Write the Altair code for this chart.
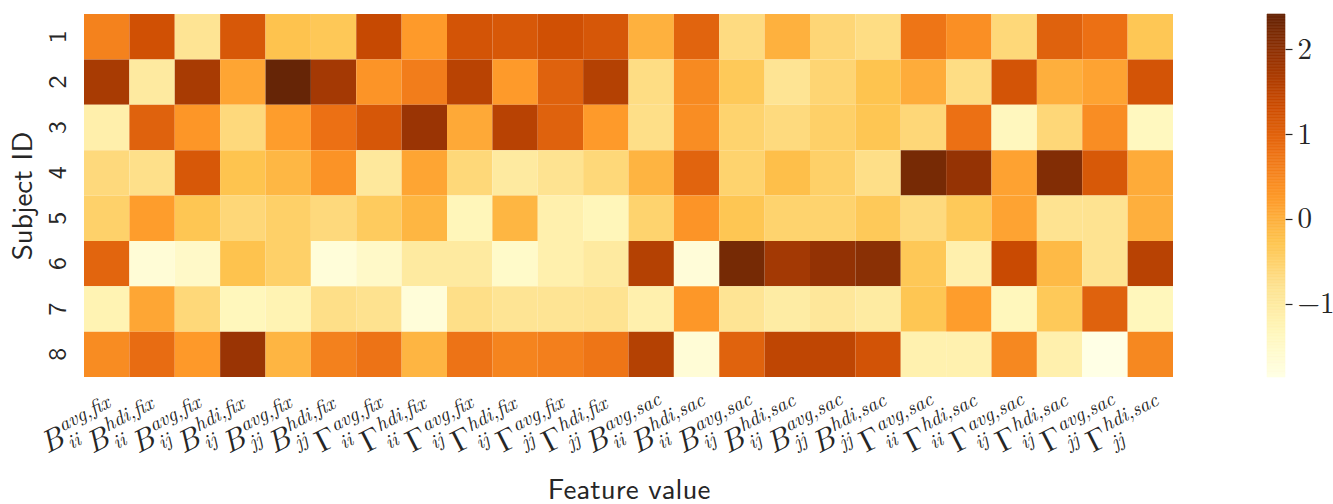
import altair as alt
import numpy as np
import pandas as pd

# Feature names: base symbol, subscript and superscript of each column
letters = ["B"] * 6 + ["Γ"] * 6 + ["B"] * 6 + ["Γ"] * 6
subs = ["ii", "ii", "ij", "ij", "jj", "jj"] * 4
sups = (["avg,fix", "hdi,fix"] * 6) + (["avg,sac", "hdi,sac"] * 6)
features = [f"{l}_{s}^{p}" for l, s, p in zip(letters, subs, sups)]

subjects = [1, 2, 3, 4, 5, 6, 7, 8]

# Standardised feature values, one list per subject (24 features each)
subject_1 = [0.58, 1.28, -0.83, 1.17, -0.25, -0.32, 1.41, 0.26, 1.23, 1.17, 1.28, 1.18,
             -0.02, 0.99, -0.66, -0.02, -0.57, -0.69, 0.75, 0.41, -0.60, 1.02, 0.81, -0.31]
subject_2 = [1.72, -0.98, 1.72, 0.13, 2.415, 1.76, 0.34, 0.64, 1.55, 0.26, 1.02, 1.60,
             -0.69, 0.47, -0.34, -0.83, -0.55, -0.26, 0.04, -0.69, 1.23, 0.00, 0.15, 1.23]
subject_3 = [-1.11, 1.02, 0.32, -0.62, 0.23, 0.81, 1.18, 1.87, 0.08, 1.56, 1.02, 0.26,
             -0.72, 0.43, -0.51, -0.64, -0.46, -0.29, -0.59, 0.81, -1.35, -0.59, 0.43, -1.37]
subject_4 = [-0.62, -0.74, 1.17, -0.26, -0.10, 0.36, -0.93, 0.13, -0.60, -0.98, -0.79, -0.60,
             -0.06, 0.99, -0.51, -0.19, -0.46, -0.72, 2.24, 1.92, 0.16, 2.12, 1.16, 0.05]
subject_5 = [-0.48, 0.23, -0.29, -0.59, -0.46, -0.62, -0.38, -0.08, -1.30, -0.08, -1.14, -1.30,
             -0.51, 0.34, -0.29, -0.51, -0.51, -0.34, -0.64, -0.34, 0.15, -0.79, -0.79, 0.00]
subject_6 = [0.98, -1.67, -1.48, -0.25, -0.46, -1.71, -1.48, -0.98, -0.98, -1.50, -1.14, -0.98,
             1.60, -1.69, 2.25, 1.78, 1.94, 2.04, -0.32, -1.14, 1.38, -0.13, -0.79, 1.56]
subject_7 = [-1.22, 0.12, -0.60, -1.33, -1.22, -0.72, -0.78, -1.70, -0.72, -0.83, -0.83, -0.79,
             -1.14, 0.30, -0.83, -1.03, -0.90, -1.00, -0.29, 0.23, -1.33, -0.34, 1.02, -1.33]
subject_8 = [0.45, 0.87, 0.28, 1.87, -0.07, 0.59, 0.77, -0.07, 0.77, 0.55, 0.61, 0.75,
             1.60, -1.67, 1.01, 1.48, 1.48, 1.24, -1.16, -1.16, 0.50, -1.14, -1.862, 0.50]

rows = [subject_1, subject_2, subject_3, subject_4,
        subject_5, subject_6, subject_7, subject_8]

colorbar_ticks = [-1, 0, 1, 2]

# YlOrBr ramp (matplotlib's nine anchor colours, linear in between)
ylorbr = ["#ffffe5", "#fff7bc", "#fee391", "#fec44f", "#fe9929",
          "#ec7014", "#cc4c02", "#993404", "#662506"]

# ---------------------------------------------------------------------------
cells = pd.DataFrame(
    [{"subject": s, "feature": f, "value": v}
     for s, row in zip(subjects, rows) for f, v in zip(features, row)]
)
labels = pd.DataFrame({"feature": features, "letter": letters, "sub": subs, "sup": sups})

vmin = float(cells["value"].min())
vmax = float(cells["value"].max())
stops = list(np.linspace(vmin, vmax, len(ylorbr)))
color_scale = alt.Scale(domain=stops, range=ylorbr, interpolate="rgb")

# colour bar sampled along the value range
edges = np.linspace(vmin, vmax, 241)
bar = pd.DataFrame({"lo": edges[:-1], "hi": edges[1:], "value": (edges[:-1] + edges[1:]) / 2})

W, H = 1089, 363
INK = "#262626"
SANS = "Latin Modern Sans"
SERIF = "Latin Modern Roman"

x_enc = alt.X(
    "feature:N", sort=features,
    scale=alt.Scale(paddingInner=0, paddingOuter=0),
    axis=alt.Axis(labels=False, ticks=False, domain=False, title="Feature value",
                  titleFont=SANS, titleFontSize=29, titleFontWeight="normal",
                  titleColor=INK, titleY=121, titleBaseline="alphabetic"),
)

heat = alt.Chart(cells).mark_rect().encode(
    x=x_enc,
    y=alt.Y("subject:O", sort=subjects,
            scale=alt.Scale(paddingInner=0, paddingOuter=0),
            axis=alt.Axis(title="Subject ID", labelAngle=270, labelFont=SANS,
                          labelFontSize=26, labelColor=INK, labelPadding=14,
                          ticks=False, domain=False,
                          titleFont=SANS, titleFontSize=29, titleFontWeight="normal",
                          titleColor=INK, titleAngle=270, titleX=-53,
                          titleBaseline="alphabetic")),
    color=alt.Color("value:Q", scale=color_scale, legend=None),
)

# tick labels: base symbol with stacked sub/superscript, rotated
ANGLE = 333
Y_LABEL = H + 23
lab = alt.Chart(labels)
x_lab = alt.X("feature:N", sort=features)
y_lab = alt.value(Y_LABEL)
main_b = lab.transform_filter(alt.datum.letter == "B").mark_text(
    align="right", baseline="alphabetic", dx=-56, dy=21,
    font=SERIF, fontSize=31, fontStyle="italic", color=INK,
).encode(x=x_lab, y=y_lab, text="letter:N", angle=alt.value(ANGLE))
main_g = lab.transform_filter(alt.datum.letter == "Γ").mark_text(
    align="right", baseline="alphabetic", dx=-56, dy=21,
    font=SERIF, fontSize=31, color=INK,
).encode(x=x_lab, y=y_lab, text="letter:N", angle=alt.value(ANGLE))
sup = lab.mark_text(
    align="left", baseline="alphabetic", dx=-54, dy=8,
    font=SERIF, fontSize=20, fontStyle="italic", color=INK,
).encode(x=x_lab, y=y_lab, text="sup:N", angle=alt.value(ANGLE))
sub = lab.mark_text(
    align="left", baseline="alphabetic", dx=-54, dy=28,
    font=SERIF, fontSize=20, fontStyle="italic", color=INK,
).encode(x=x_lab, y=y_lab, text="sub:N", angle=alt.value(ANGLE))

# colour bar to the right of the heatmap, with its own value axis
cbar = alt.Chart(bar).mark_rect(strokeWidth=0.6).encode(
    x=alt.value(W + 94),
    x2=alt.value(W + 112),
    y=alt.Y("lo:Q", scale=alt.Scale(domain=[vmin, vmax], nice=False, zero=False),
            axis=alt.Axis(orient="right", offset=112, values=colorbar_ticks,
                          domain=False, grid=False, tickSize=7, tickWidth=1.2,
                          tickColor=INK, labelFont=SERIF, labelFontSize=29,
                          labelColor=INK, labelPadding=5, title=None)),
    y2="hi:Q",
    color=alt.Color("value:Q", scale=color_scale, legend=None),
    stroke=alt.Stroke("value:Q", scale=color_scale, legend=None),
)

chart = (
    alt.layer(heat, main_b, main_g, sup, sub, cbar)
    .resolve_scale(y="independent")
    .properties(width=W, height=H, autosize=alt.AutoSizeParams(type="none"),
                padding={"left": 84, "top": 14, "right": 160, "bottom": 127},
                background="white")
    .configure_view(strokeWidth=0)
)

chart.save("out.html", embed_options={"renderer": "svg", "actions": False})
